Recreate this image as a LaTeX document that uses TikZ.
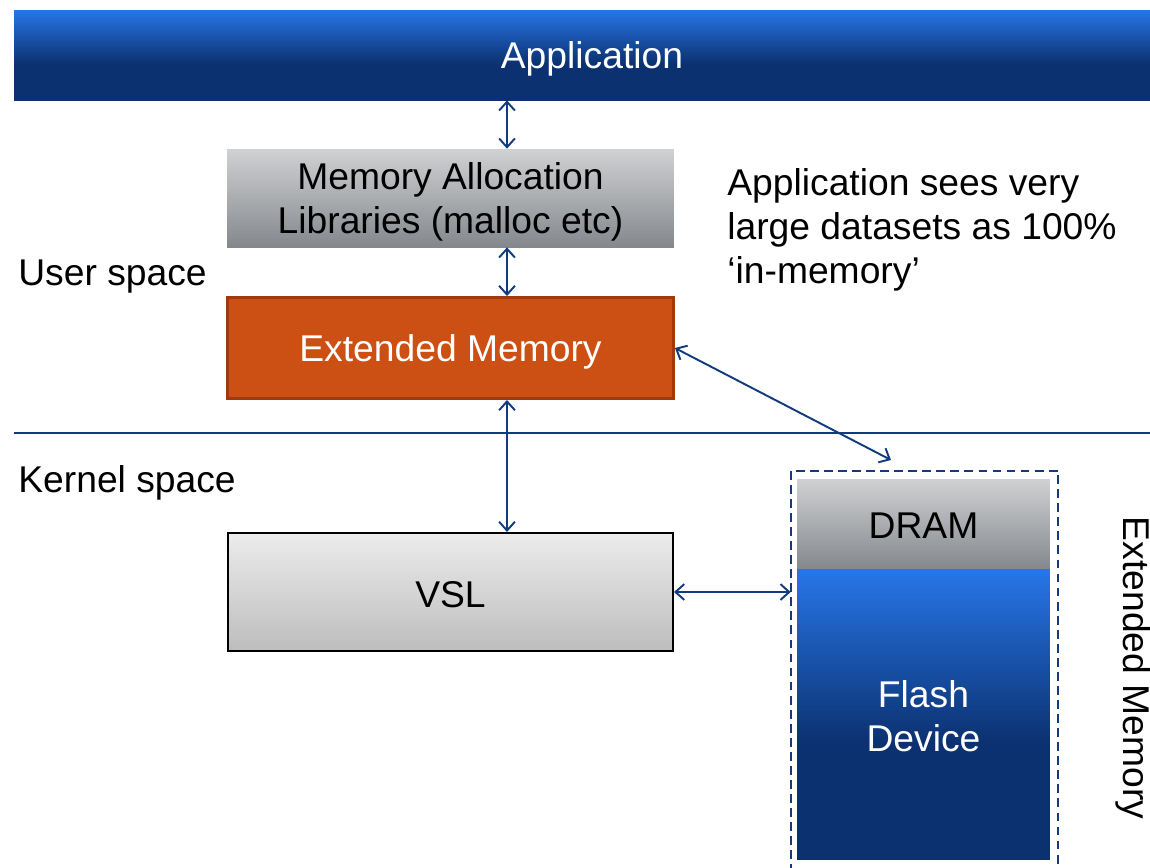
\documentclass[tikz,border=0pt]{standalone}
\usepackage{fontspec}
\setmainfont{Liberation Sans}
\usetikzlibrary{arrows.meta}
\definecolor{blt}{HTML}{2776E8}
\definecolor{bdk}{HTML}{0B3170}
\definecolor{arrc}{HTML}{123B7D}
\definecolor{orfill}{HTML}{CC4F14}
\definecolor{ordraw}{HTML}{9E3A0E}
\definecolor{gtop}{HTML}{D0D1D3}
\definecolor{gbot}{HTML}{84888C}
\definecolor{vtop}{HTML}{ECECEC}
\definecolor{vbot}{HTML}{BDBDBD}
\pgfdeclareverticalshading{bluebar}{100bp}{color(0bp)=(bdk); color(25bp)=(bdk); color(45bp)=(bdk); color(75bp)=(blt); color(100bp)=(blt)}
\tikzset{
  txt/.style={font=\fontsize{21.2}{25}\selectfont, inner sep=0pt},
  box/.style={inner sep=0pt},
  lbl/.style={txt, align=center},
  graybox/.style={box, top color=gtop, bottom color=gbot},
  bluebox/.style={box, shade, shading=bluebar},
  arr/.style={draw=arrc, line width=1.1pt, {Straight Barb[length=5pt,width=9pt]}-{Straight Barb[length=5pt,width=9pt]}},
}
\begin{document}
\begin{tikzpicture}[x=0.02cm,y=-0.02cm]
\useasboundingbox (0,0) rectangle (1150,867);
% banner
\node[bluebox, minimum width=23.12cm, minimum height=1.8cm] (app) at (592,55) {};
\node[lbl, text=white] (apptxt) at ([yshift=-0.07cm]app.center) {Application};
% user space boxes
\node[graybox, minimum width=8.94cm, minimum height=1.96cm] (malloc) at (450.5,198) {};
\node[lbl] (malloctxt) at ([yshift=-0.08cm]malloc.center) {Memory Allocation\\Libraries (malloc etc)};
\node[box, fill=orfill, draw=ordraw, line width=1.7pt, minimum width=8.92cm, minimum height=2.02cm] (ext) at (450.5,348) {};
\node[lbl, text=white] (exttxt) at ([yshift=-0.07cm]ext.center) {Extended Memory};
\node[box, top color=vtop, bottom color=vbot, draw=black, line width=1.2pt, minimum width=8.9cm, minimum height=2.36cm] (vsl) at (450.5,592) {};
\node[lbl] (vsltxt) at ([yshift=-0.05cm]vsl.center) {VSL};
% extended memory stack
\node[graybox, minimum width=5.06cm, minimum height=1.8cm] (dram) at (923.5,524) {};
\node[lbl] (dramtxt) at ([yshift=-0.04cm]dram.center) {DRAM};
\node[bluebox, minimum width=5.06cm, minimum height=5.82cm] (flash) at (923.5,714.5) {};
\node[lbl, text=white] (flashtxt) at ([yshift=-0.04cm]flash.center) {Flash\\Device};
\node[inner sep=0pt, minimum width=5.34cm, minimum height=8.6cm] (embox) at (924.5,686) {};
\draw[arrc, line width=1.1pt, dash pattern=on 5pt off 3pt] (embox.south west) -- (embox.north west) -- (embox.north east) -- (embox.south east);
% labels
\node[txt, anchor=west] (user) at (18,277) {User space};
\node[txt, anchor=west] (kern) at (18,483) {Kernel space};
\node[txt, anchor=west, align=left] (note) at (727,230) {Application sees very\\large datasets as 100\%\\‘in-memory’};
\node[txt, rotate=-90] (emlabel) at (1133,668) {Extended Memory};
% separator
\draw[arrc, line width=1.1pt] (14,433) -- (1150,433);
% connectors
\coordinate (ax) at (507,0);
\coordinate (dend) at (891,460);
\draw[arr] (app.south -| ax) -- (malloc.north -| ax);
\draw[arr] (malloc.south -| ax) -- (ext.north -| ax);
\draw[arr] (ext.south -| ax) -- (vsl.north -| ax);
\draw[arr] (ext.east) -- (dend);
\draw[arr] (vsl.east) -- (embox.west |- vsl.east);
\end{tikzpicture}
\end{document}
